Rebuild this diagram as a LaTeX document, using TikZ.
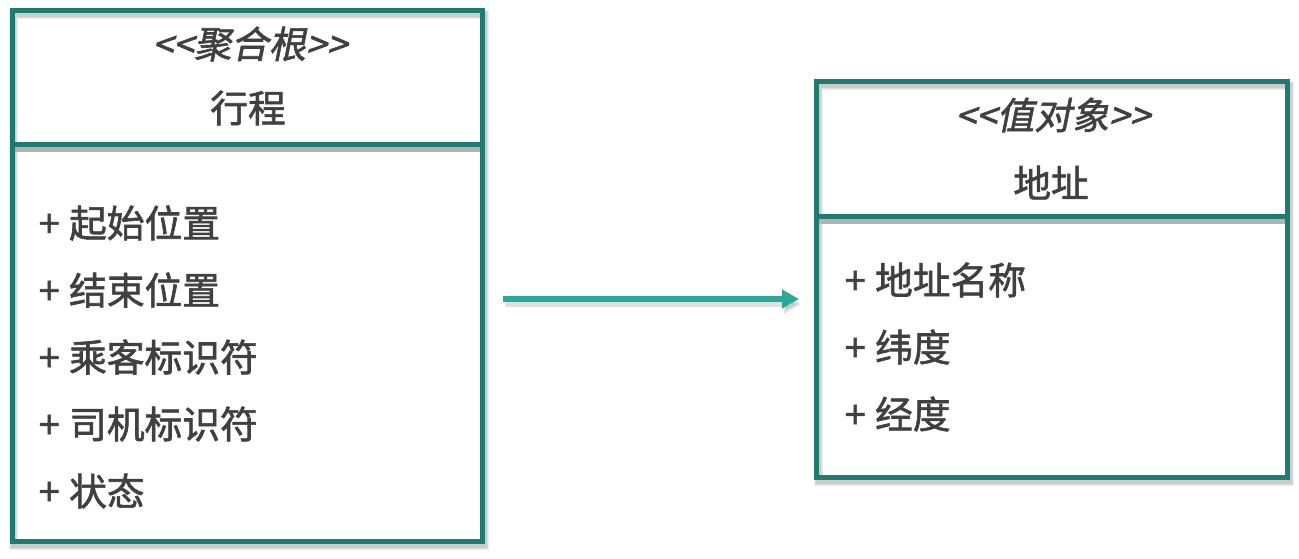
\documentclass[tikz,border=0pt]{standalone}
\usepackage{fontspec}
\newfontfamily\cjk[FakeBold=1.6]{Noto Sans CJK SC}
\newfontfamily\cjkit[FakeSlant=0.2,FakeBold=1.6,Ligatures=TeXOff]{Noto Sans CJK SC}
\usetikzlibrary{arrows.meta,backgrounds}
\definecolor{frameteal}{HTML}{1E7B70}
\definecolor{arrowteal}{HTML}{2AA898}
\definecolor{textgray}{HTML}{404040}
\tikzset{
  umlbox/.style={draw=frameteal, line width=3.75pt, inner sep=0pt, outer sep=0pt},
  umlline/.style={draw=frameteal, line width=3.75pt},
  shade/.style={draw=black, opacity=0.07},
  dividershade/.style={draw=gray!60, line width=3.75pt},
  headtext/.style={font=\cjk\fontsize{28.3}{32}\selectfont, text=textgray, inner sep=0pt},
  stereotext/.style={headtext, font=\cjkit\fontsize{28}{32}\selectfont},
  attrtext/.style={headtext, anchor=west},
  assoc/.style={draw=arrowteal, line width=4.5pt, -{Triangle[length=12.75pt,width=13.5pt]},
    shorten <=15.375pt, shorten >=13.125pt},
  assocshade/.style={assoc, draw=black, opacity=0.12},
}
\begin{document}
\begin{tikzpicture}[x=0.75pt, y=-0.75pt]
    \useasboundingbox (0,0) rectangle (1299,559);

    % boxes
    \node[umlbox, minimum width=352.875pt, minimum height=398.25pt] (trip) at (247.25,276) {};
    \node[umlbox, minimum width=353.25pt, minimum height=297pt] (addr) at (1052,279.5) {};
    \draw[umlline] (trip.west |- 0,144.5) -- (trip.east |- 0,144.5);
    \draw[umlline] (addr.west |- 0,216.5) -- (addr.east |- 0,216.5);

    % titles
    \node[stereotext] (tripstereo) at (250,44) {<<聚合根>>};
    \node[headtext] (tripname) at (248,108) {行程};
    \node[stereotext] (addrstereo) at (1053,115) {<<值对象>>};
    \node[headtext] (addrname) at (1051,182.5) {地址};

    % attributes
    \foreach \t [count=\i] in {起始位置,结束位置,乘客标识符,司机标识符,状态} {
        \node[attrtext] (tripattr\i) at (38.5,{223+67*(\i-1)}) {+\hspace{0.25em}\t};
    }
    \foreach \t [count=\i] in {地址名称,纬度,经度} {
        \node[attrtext] (addrattr\i) at (844.5,{280+67*(\i-1)}) {+\hspace{0.25em}\t};
    }

    \draw[assoc] ([yshift=-17.25pt]trip.east) -- ([yshift=-14.625pt]addr.west);

    % shadows
    \begin{scope}[on background layer]
        \foreach \b in {trip,addr} {
            \foreach \w in {6.75pt,5.25pt,3.75pt} {
                \draw[shade, line width=\w, transform canvas={xshift=1.2pt,yshift=-3pt}]
                    (\b.north west) rectangle (\b.south east);
            }
        }
        \draw[dividershade, transform canvas={yshift=-3.75pt}] (trip.west |- 0,144.5) -- (trip.east |- 0,144.5);
        \draw[dividershade, transform canvas={yshift=-3.75pt}] (addr.west |- 0,216.5) -- (addr.east |- 0,216.5);
        \draw[assocshade, transform canvas={xshift=1.5pt,yshift=-3.75pt}]
            ([yshift=-17.25pt]trip.east) -- ([yshift=-14.625pt]addr.west);
    \end{scope}
\end{tikzpicture}
\end{document}
